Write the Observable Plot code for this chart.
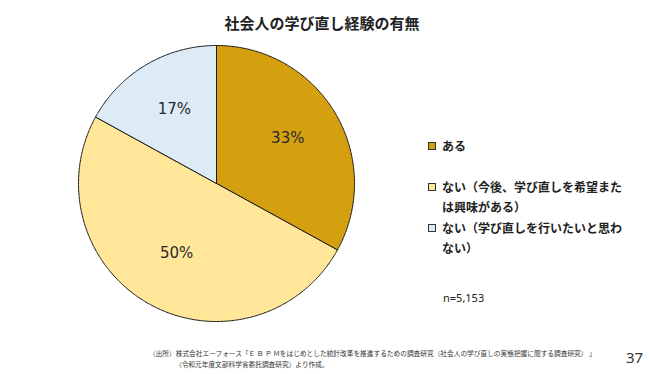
<!DOCTYPE html>
<html><head><meta charset="utf-8">
<script src="https://cdn.jsdelivr.net/npm/d3@7"></script>
<script src="https://cdn.jsdelivr.net/npm/@observablehq/plot@0.6"></script>
<style>
body{margin:0;background:#fff;}
#page{position:relative;width:650px;height:374px;overflow:hidden;font-family:"Noto Sans CJK JP",sans-serif;color:#222;background:#fff;}
#title{position:absolute;left:2px;width:640px;top:11px;text-align:center;font-size:15px;font-weight:bold;line-height:24px;color:#222;}
#chart{position:absolute;left:0;top:36px;}
.lg{position:absolute;left:428px;font-size:12px;font-weight:bold;line-height:20px;color:#222;}
.lg .sw{position:absolute;left:0;top:6px;width:6px;height:6px;border:1px solid #333;}
.lg .tx{margin-left:14px;white-space:nowrap;}
#n{position:absolute;left:443px;top:290px;font-family:"Noto Sans",sans-serif;font-size:11px;line-height:16px;color:#222;}
#src{position:absolute;left:149px;top:348px;font-size:6.7px;line-height:11px;color:#333;white-space:nowrap;}
#src .l2{margin-left:26px;}
#pg{position:absolute;left:626px;top:347px;font-family:"Noto Sans",sans-serif;font-size:15px;line-height:20px;color:#333;}
</style></head><body><div id="page">
<div id="title"></div>
<div id="chart"></div>
<div id="legend"></div>
<div id="n"></div>
<div id="src"></div>
<div id="pg"></div>
</div>
<script>
const title = "社会人の学び直し経験の有無";
const categories = ["ある", "ない（今後、学び直しを希望または興味がある）", "ない（学び直しを行いたいと思わない）"];
const legendLines = [["ある"], ["ない（今後、学び直しを希望また", "は興味がある）"], ["ない（学び直しを行いたいと思わ", "ない）"]];
const values = [33, 50, 17];
const valueLabels = ["33%", "50%", "17%"];
const colors = ["#D5A010", "#FFE699", "#DDEBF7"];
const sampleNote = "n=5,153";
const sourceLines = ["（出所）株式会社エーフォース「Ｅ Ｂ Ｐ Ｍをはじめとした統計改革を推進するための調査研究（社会人の学び直しの実態把握に関する調査研究） 」", "（令和元年度文部科学省委託調査研究）より作成。"];
const pageNumber = "37";

document.getElementById("title").textContent = title;
document.getElementById("n").textContent = sampleNote;
const src = document.getElementById("src");
sourceLines.forEach((s, i) => {
  const d = document.createElement("div");
  if (i > 0) d.className = "l2";
  d.textContent = s;
  src.appendChild(d);
});
document.getElementById("pg").textContent = pageNumber;

const legendTops = [136, 177, 218];
const lg = document.getElementById("legend");
categories.forEach((c, i) => {
  const d = document.createElement("div");
  d.className = "lg";
  d.style.top = legendTops[i] + "px";
  const sw = document.createElement("div");
  sw.className = "sw"; sw.style.background = colors[i];
  d.appendChild(sw);
  const t = document.createElement("div");
  t.className = "tx"; t.innerHTML = legendLines[i].join("<br>");
  d.appendChild(t);
  lg.appendChild(d);
});

const arcs = d3.pie().sort(null).value(d => d)(values);
const pts = [];
arcs.forEach((a, i) => {
  const k = categories[i];
  pts.push({k, x: 0, y: 0});
  const n = Math.max(2, Math.ceil((a.endAngle - a.startAngle) / 0.01));
  for (let j = 0; j <= n; j++) {
    const t = a.startAngle + (a.endAngle - a.startAngle) * j / n;
    pts.push({k, x: Math.sin(t), y: Math.cos(t)});
  }
  pts.push({k, x: 0, y: 0});
});
const labelPts = arcs.map((a, i) => {
  const m = (a.startAngle + a.endAngle) / 2;
  return {text: valueLabels[i], x: 0.6 * Math.sin(m), y: 0.6 * Math.cos(m)};
});

const plot = Plot.plot({
  width: 650, height: 300, margin: 0,
  x: {domain: [-1, 1], range: [78, 354], axis: null},
  y: {domain: [-1, 1], range: [285, 9], axis: null},
  color: {domain: categories, range: colors},
  marks: [
    Plot.line(pts, {x: "x", y: "y", z: "k", fill: "k", stroke: "#1a1a1a", strokeWidth: 1, curve: "linear"}),
    Plot.text(labelPts, {x: "x", y: "y", dy: -3, text: "text", fontSize: 15, fill: "#2a2a2a", fontFamily: "DejaVu Sans"})
  ]
});
document.getElementById("chart").appendChild(plot);
</script>
</body></html>
